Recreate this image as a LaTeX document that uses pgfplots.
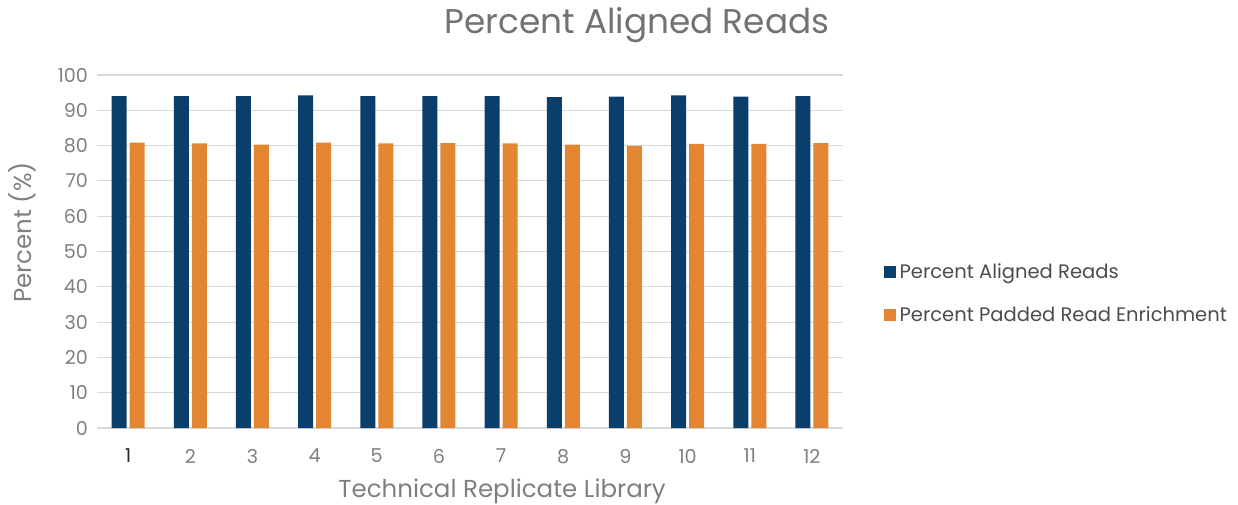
\documentclass[border=0pt]{standalone}
\usepackage{fontspec}
\setmainfont{Poppins}
\usepackage{pgfplots}
\pgfplotsset{compat=1.18}
\definecolor{cblue}{HTML}{0B3F6B}
\definecolor{corange}{HTML}{E38632}
\definecolor{tgray}{HTML}{7F7F7F}
\definecolor{ggray}{HTML}{D9D9D9}
\begin{document}
\begin{tikzpicture}[x=1bp,y=1bp]
\useasboundingbox (-48.5bp,-38.5bp) rectangle (570.5bp,214bp);
\begin{axis}[
  at={(0,0)}, anchor=origin,
  scale only axis,
  width=373bp, height=176.5bp,
  ybar, bar width=7.5bp,
  xmin=0.5, xmax=12.5, ymin=0, ymax=100,
  ytick={0,10,...,100},
  xtick={1,...,12},
  xticklabels={\textcolor{black!85}{1},2,3,4,5,6,7,8,9,10,11,12},
  /pgf/number format/assume math mode=true,
  axis line style={draw=none},
  ymajorgrids, grid style={draw=ggray, line width=0.6pt},
  major tick length=0pt,
  tick label style={font=\fontsize{9.6}{11}\selectfont, text=tgray},
  xticklabel style={yshift=-7bp},
  yticklabel style={xshift=-1bp},
  xlabel={Technical Replicate Library},
  ylabel={Percent (\%)},
  label style={font=\fontsize{12.3}{14}\selectfont, text=tgray},
  xlabel style={at={(axis description cs:0.543,0)}, anchor=center, yshift=-31.5bp},
  ylabel style={at={(axis description cs:0,0.554)}, anchor=center, yshift=37.5bp},
  legend style={draw=none, fill=none, at={(axis description cs:1.046,0.38)}, anchor=west,
    font=\fontsize{9.8}{12}\selectfont, text=black!70, row sep=8.5bp,
    legend cell align=left},
  legend image code/.code={\fill[#1] (-2.5bp,-3bp) rectangle (3.5bp,3bp);},
  clip=false,
]
\addplot[fill=cblue, draw=none, bar shift=-4.5bp] coordinates {
(1,94.05) (2,94.05) (3,94.0) (4,94.25) (5,94.05) (6,94.0)
(7,94.0) (8,93.7) (9,93.9) (10,94.25) (11,93.9) (12,94.0)};
\addplot[fill=corange, draw=none, bar shift=4.5bp] coordinates {
(1,80.85) (2,80.6) (3,80.3) (4,80.85) (5,80.6) (6,80.7)
(7,80.6) (8,80.3) (9,79.9) (10,80.5) (11,80.5) (12,80.7)};
\legend{Percent Aligned Reads, Percent Padded Read Enrichment}
\node[font=\fontsize{17.2}{20}\selectfont, text=tgray!90!black] at (axis description cs:0.724,1.14) {Percent Aligned Reads};
\end{axis}
\end{tikzpicture}
\end{document}
